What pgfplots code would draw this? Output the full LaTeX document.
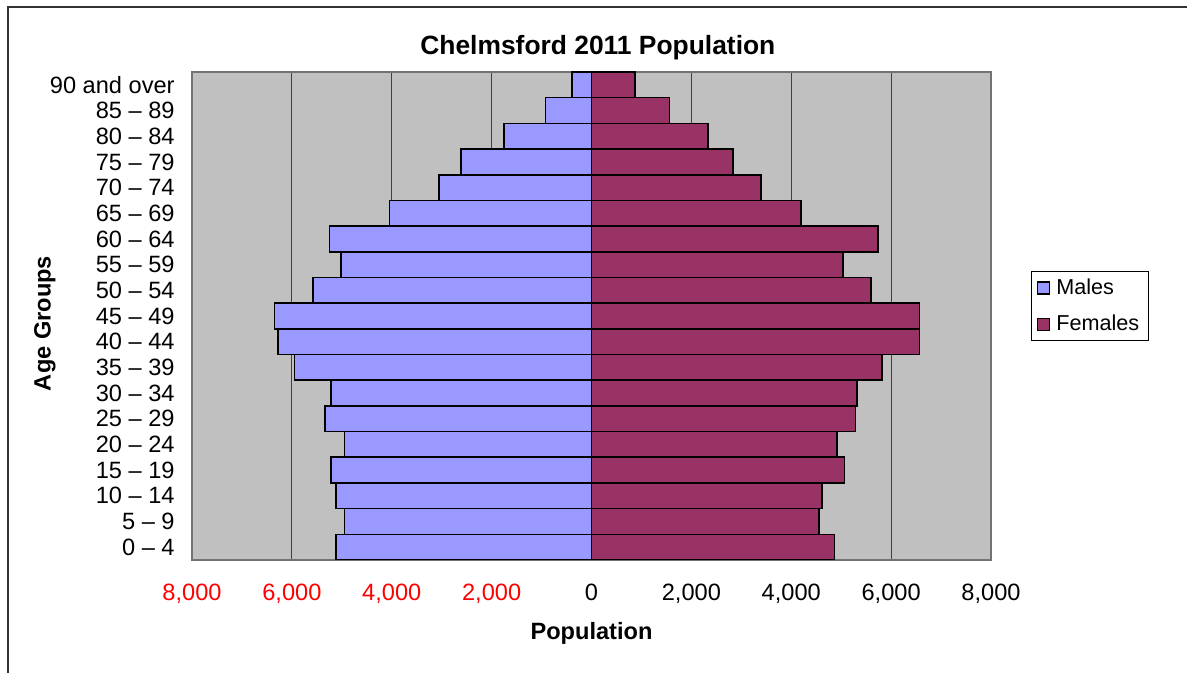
\documentclass[border=0pt]{standalone}
\usepackage{pgfplots}
\pgfplotsset{compat=1.18}
\usepackage{pgfplotstable}
\usepackage{fontspec}
\setmainfont{Liberation Sans}
\definecolor{male}{HTML}{9999FF}
\definecolor{female}{HTML}{993366}
\definecolor{plotbg}{HTML}{C0C0C0}
\pgfplotstableread{
i m f
0 -5114 4866
1 -4948 4552
2 -5114 4620
3 -5214 5066
4 -4948 4920
5 -5340 5286
6 -5214 5320
7 -5948 5820
8 -6280 6566
9 -6348 6566
10 -5580 5600
11 -5014 5032
12 -5248 5732
13 -4048 4200
14 -3054 3400
15 -2614 2832
16 -1754 2332
17 -920 1566
18 -388 866
}\pop
\begin{document}
\begin{tikzpicture}
\useasboundingbox (0pt,0pt) rectangle (593.5pt,336.5pt);
\draw[line width=1pt, black!80] (4pt,-5pt) -- (4pt,333pt) -- (600pt,333pt);
\begin{axis}[
  at={(96pt,56.5pt)}, anchor=south west,
  scale only axis, width=399.5pt, height=244pt,
  xmin=-8000, xmax=8000, ymin=-0.5, ymax=18.5,
  axis background/.style={fill=plotbg},
  axis line style={draw=black!55, line width=0.8pt},
  xtick={-8000,-6000,...,8000},
  xticklabels={{\textcolor{red}{8,000}},{\textcolor{red}{6,000}},{\textcolor{red}{4,000}},{\textcolor{red}{2,000}},0,{2,000},{4,000},{6,000},{8,000}},
  ytick={0,...,18},
  yticklabels={0 -- 4,5 -- 9,10 -- 14,15 -- 19,20 -- 24,25 -- 29,30 -- 34,35 -- 39,40 -- 44,45 -- 49,50 -- 54,55 -- 59,60 -- 64,65 -- 69,70 -- 74,75 -- 79,80 -- 84,85 -- 89,90 and over},
  major tick length=0pt,
  tick style={draw=none},
  xmajorgrids, grid style={black!75, line width=0.5pt},
  ticklabel style={font=\fontsize{11.8}{13}\selectfont},
  yticklabel style={anchor=east, inner sep=0pt, xshift=-8.5pt},
  xticklabel style={anchor=base, inner sep=0pt, yshift=-20.5pt},
  title={Chelmsford 2011 Population},
  title style={at={(axis description cs:0.508,1.026)}, anchor=center, inner sep=0pt, font=\fontsize{13.2}{15}\selectfont\bfseries},
  xlabel={Population},
  xlabel style={at={(axis description cs:0.5,-0.151)}, anchor=center, inner sep=0pt, font=\fontsize{11.8}{13}\selectfont\bfseries},
  ylabel={Age Groups},
  ylabel style={at={(axis description cs:-0.184,0.4846)}, anchor=center, rotate=0, inner sep=0pt, font=\fontsize{11.8}{13}\selectfont\bfseries},
  legend style={at={(axis description cs:1.050,0.592)}, anchor=north west, draw=black, line width=0.5pt, fill=white, font=\fontsize{10.8}{12}\selectfont, inner xsep=2.5pt, inner ysep=1.5pt, row sep=5pt},
  legend cell align=left,
  legend image code/.code={\draw[#1, line width=0.6pt] (0pt,-3pt) rectangle (6pt,3pt); \path[draw=none,fill=none] (-0.5pt,0pt) -- (7.5pt,0pt);},
]
\addplot[xbar, bar width=1, bar shift=0pt, fill=male, draw=black, line width=0.8pt] table[x=m,y=i] {\pop};
\addlegendentry{Males}
\addplot[xbar, bar width=1, bar shift=0pt, fill=female, draw=black, line width=0.8pt] table[x=f,y=i] {\pop};
\addlegendentry{Females}
\end{axis}
\end{tikzpicture}
\end{document}
